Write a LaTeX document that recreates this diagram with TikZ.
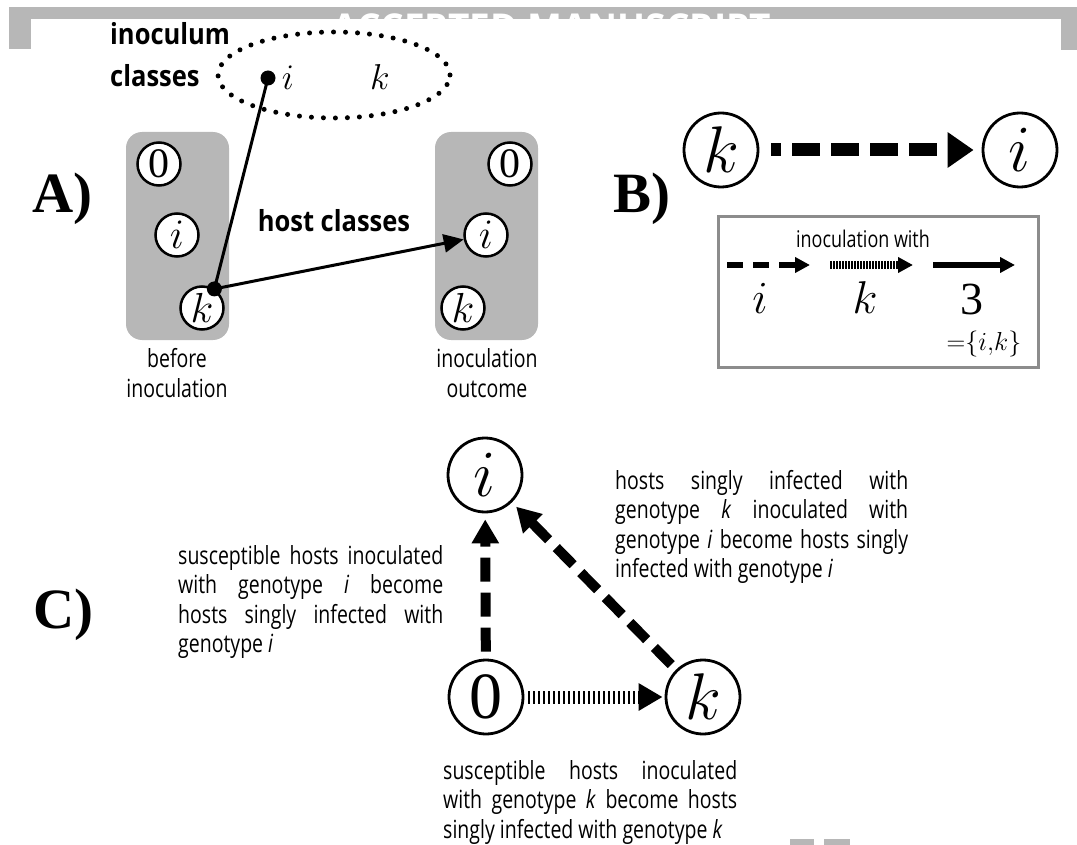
\documentclass[tikz,border=0pt]{standalone}
\usepackage{fix-cm}
\usepackage{fontspec}
\setmainfont{Liberation Serif}
\newfontfamily\condsans[FakeStretch=0.78]{Open Sans}
\newfontfamily\condbold[FakeStretch=0.88]{Open Sans}
\newfontfamily\stampfont{Open Sans}
\usetikzlibrary{arrows.meta,positioning,shapes.geometric}
\definecolor{boxgray}{RGB}{183,183,183}
\definecolor{legendgray}{RGB}{140,140,140}

\begin{document}
\begin{tikzpicture}[
        x=1pt, y=-1pt,
        host/.style = {
                circle,
                draw,
                line width=2.5pt,
                fill=white,
                minimum size=43pt,
                inner sep=0pt,
                font=\fontsize{42}{42}\selectfont,
            },
        big/.style = {
                circle,
                draw,
                line width=2.8pt,
                minimum size=74pt,
                inner sep=0pt,
                font=\fontsize{66}{66}\selectfont,
            },
        hostbox/.style = {
                rectangle,
                rounded corners=16pt,
                fill=boxgray,
                minimum width=103pt,
                minimum height=208pt,
            },
        panel/.style = {
                anchor=base west,
                inner sep=0pt,
                font=\fontsize{57}{57}\selectfont\bfseries,
            },
        heading/.style = {
                inner sep=0pt,
                font=\condbold\bfseries\fontsize{29}{29}\selectfont,
            },
        boxcap/.style = {
                anchor=north,
                inner sep=0pt,
                align=center,
                font=\condsans\fontsize{25}{30}\selectfont,
            },
        desc/.style = {
                anchor=north west,
                inner sep=0pt,
                align=justify,
                font=\condsans\fontsize{25}{29.5}\selectfont,
            },
        mathlab/.style = {anchor=base, inner sep=0pt},
        dot/.style = {circle, fill, inner sep=0pt, minimum size=15pt},
        bigdash/.style = {
                line width=13pt,
                dash pattern=on 28pt off 11pt,
                -{Triangle[length=26pt,width=34pt]},
            },
        cdash/.style = {
                line width=10pt,
                dash pattern=on 24pt off 11pt,
                -{Triangle[length=24pt,width=26pt]},
                shorten <=7pt, shorten >=6pt,
            },
        chatch/.style = {
                line width=13pt,
                dash pattern=on 2pt off 3pt,
                -{Triangle[length=24pt,width=26pt]},
                shorten <=4pt, shorten >=2pt,
            },
        legline/.style = {line width=6pt, -{Triangle[length=15pt,width=15pt]}},
    ]
    \useasboundingbox (0,0) rectangle (1077,845);
    % banner
    \fill[boxgray] (9,7) rectangle (1077,19);
    \fill[boxgray] (9,19) rectangle (31,49);
    \fill[boxgray] (1061,19) rectangle (1077,50);
    \node[anchor=north, inner sep=0pt, text=white,
        font=\stampfont\bfseries\fontsize{37}{37}\selectfont] (stamp) at (552,14) {ACCEPTED MANUSCRIPT};
    \fill[boxgray] (790,839) rectangle (814,845);
    \fill[boxgray] (824,839) rectangle (850,845);

    % A) host classes
    \node[panel] (A) at (32,213) {A)};
    \node[hostbox] (before) at (177.5,236) {};
    \node[hostbox] (outcome) at (486.5,236) {};
    \foreach \c/\t/\xb/\xo/\y in {0/0/159/510/164, i/$i$/177/486/235, k/$k$/202/463/308} {
        \node[host] (b\c) at (\xb,\y) {\t};
        \node[host] (o\c) at (\xo,\y) {\t};
    }
    \node[boxcap] (bcap) at (177,348) {before\\inoculation};
    \node[boxcap] (ocap) at (487,348) {inoculation\\outcome};
    \node[heading, anchor=base west] (inoc1) at (110,45) {inoculum};
    \node[heading, anchor=base west] (inoc2) at (110,87) {classes};
    \node[ellipse, draw, line width=5pt, line cap=round, dash pattern=on 0pt off 12pt,
        minimum width=232pt, minimum height=86pt] (pool) at (334,75) {};
    \node[mathlab, font=\fontsize{36}{36}\selectfont] (pi) at (288,90) {$i$};
    \node[mathlab, font=\fontsize{36}{36}\selectfont] (pk) at (380,90) {$k$};
    \node[heading, anchor=base] (hc) at (334,232) {host classes};
    \node[dot] (idot) at (268,78) {};
    \node[dot] (kdot) at (bk.57) {};
    \draw[line width=3pt] (idot.center) -- (kdot.center);
    \draw[line width=3pt, -{Triangle[length=20pt,width=18pt]}] (kdot.center) -- (oi);

    % B) legend
    \node[panel] (B) at (613,213) {B)};
    \node[big] (Bk) at (721,150) {$k$};
    \node[big] (Bi) at (1020,150) {$i$};
    \draw[bigdash, dash phase=18pt, shorten <=12pt, shorten >=8pt] (Bk) -- (Bi);
    \node[draw=legendgray, line width=3pt, minimum width=320pt, minimum height=150pt,
        inner sep=0pt] (legend) at (878,292) {};
    \node[anchor=base, inner sep=0pt, font=\condsans\fontsize{23}{23}\selectfont] (with) at (863,248) {inoculation with};
    \foreach \n/\xa/\xb in {d/727/810, h/830/913, s/933/1015} {
        \coordinate (\n1) at (\xa,265);
        \coordinate (\n2) at (\xb,265);
    }
    \draw[legline, dash pattern=on 16pt off 10pt] (d1) -- (d2);
    \draw[legline, line width=8pt, dash pattern=on 1.5pt off 1.5pt] (h1) -- (h2);
    \draw[legline] (s1) -- (s2);
    \node[mathlab, font=\fontsize{46}{46}\selectfont] (li) at (760,313) {$i$};
    \node[mathlab, font=\fontsize{46}{46}\selectfont] (lk) at (865,313) {$k$};
    \node[mathlab, font=\fontsize{46}{46}\selectfont] (l3) at (972,315) {3};
    \node[mathlab, font=\fontsize{26}{26}\selectfont] (lset) at (984,350) {${=}\{i,\!k\}$};

    % C) transitions
    \node[panel] (C) at (33,628) {C)};
    \node[big] (Ci) at (485,475) {$i$};
    \node[big] (C0) at (486,697) {0};
    \node[big] (Ck) at (703,697) {$k$};
    \draw[cdash] (C0) -- (Ci);
    \draw[cdash] (Ck) -- (Ci);
    \draw[chatch] (C0) -- (Ck);
    \node[desc, text width=265pt] (d0i) at (178,545) {susceptible hosts inoculated\linebreak with genotype \textit{i} become\linebreak hosts singly infected with\linebreak genotype \textit{i}};
    \node[desc, text width=293pt] (dki) at (615,470) {hosts singly infected with\linebreak genotype \textit{k} inoculated with\linebreak genotype \textit{i} become hosts singly\linebreak infected with genotype \textit{i}};
    \node[desc, text width=294pt] (d0k) at (443,760) {susceptible hosts inoculated\linebreak with genotype \textit{k} become hosts\linebreak singly infected with genotype \textit{k}};
\end{tikzpicture}
\end{document}
